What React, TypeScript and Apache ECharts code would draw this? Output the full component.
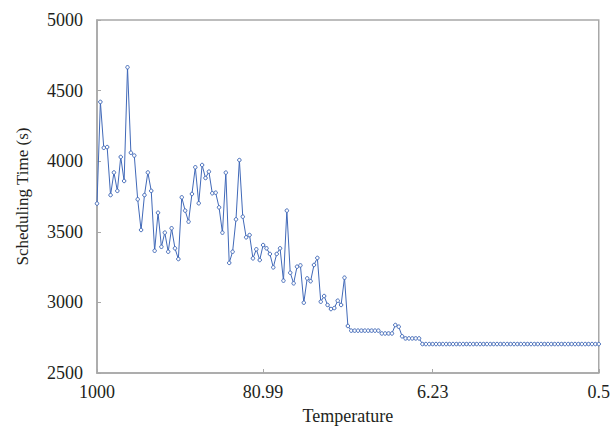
import React, { useEffect, useRef } from "react";
import * as echarts from "echarts";

// Temperature step index (0..148) and tick labels
const tickIndex = [0, 49, 99, 148];
const tickLabels = ["1000", "80.99", "6.23", "0.5"];

// Scheduling time values, one per temperature step
const noisyPart = [
  3700, 4420, 4095, 4100, 3760, 3920, 3790, 4030, 3860, 4665,
  4060, 4040, 3730, 3513, 3760, 3920, 3790, 3366, 3635, 3394,
  3494, 3359, 3525, 3383, 3307, 3744, 3650, 3572, 3768, 3957,
  3702, 3973, 3881, 3926, 3773, 3777, 3673, 3494, 3919, 3280,
  3359, 3588, 4008, 3607, 3461, 3477, 3312, 3376, 3300, 3406,
  3383, 3343, 3248, 3343, 3383, 3154, 3650, 3210, 3135, 3253,
  3262, 2998, 3170, 3150, 3265, 3315, 3005, 3045, 2982, 2953,
  2960, 3012, 2982, 3175, 2833,
];
const settlingPart = [
  2800, 2800, 2800, 2800, 2800, 2800, 2800, 2800, 2800,
  2780, 2780, 2780, 2780,
  2840, 2828, 2760,
  2745, 2745, 2745, 2745, 2745,
];
const flatPart = [
  2705, 2705, 2705, 2705, 2705, 2705, 2705, 2705, 2705, 2705,
  2705, 2705, 2705, 2705, 2705, 2705, 2705, 2705, 2705, 2705,
  2705, 2705, 2705, 2705, 2705, 2705, 2705, 2705, 2705, 2705,
  2705, 2705, 2705, 2705, 2705, 2705, 2705, 2705, 2705, 2705,
  2705, 2705, 2705, 2705, 2705, 2705, 2705, 2705, 2705, 2705,
  2705, 2705, 2705,
];
const schedulingTime = [...noisyPart, ...settlingPart, ...flatPart];

const FONT = "'Liberation Serif', 'DejaVu Serif', serif";
const FRAME = "#a8a8a8";
const LINE = "#4169b8";

export default function App() {
  const ref = useRef<HTMLDivElement>(null);

  useEffect(() => {
    if (!ref.current) return;
    const chart = echarts.init(ref.current, null, { renderer: "svg" });
    const data = schedulingTime.map((v, i) => [i, v]);
    chart.setOption({
      animation: false,
      backgroundColor: "#ffffff",
      grid: {
        left: 97,
        right: 13,
        top: 20,
        bottom: 58,
        show: true,
        borderColor: FRAME,
        borderWidth: 1.5,
        containLabel: false,
      },
      xAxis: {
        type: "value",
        min: 0,
        max: schedulingTime.length - 1,
        name: "Temperature",
        nameLocation: "middle",
        nameGap: 34,
        nameTextStyle: { fontFamily: FONT, fontSize: 18, color: "#231f20" },
        axisLine: { show: true, lineStyle: { color: FRAME, width: 1.5 } },
        axisTick: {
          show: true,
          inside: true,
          length: 4,
          customValues: tickIndex,
          lineStyle: { color: FRAME, width: 1 },
        },
        axisLabel: {
          show: true,
          customValues: tickIndex,
          margin: 10,
          fontFamily: FONT,
          fontSize: 18,
          color: "#231f20",
          formatter: (val: number) => {
            const k = tickIndex.indexOf(Math.round(val));
            return k >= 0 ? tickLabels[k] : "";
          },
        },
        splitLine: { show: false },
      },
      yAxis: {
        type: "value",
        min: 2500,
        max: 5000,
        interval: 500,
        name: "Scheduling Time (s)",
        nameLocation: "middle",
        nameGap: 66,
        nameTextStyle: { fontFamily: FONT, fontSize: 17, color: "#231f20" },
        axisLine: { show: true, lineStyle: { color: FRAME, width: 1.5 } },
        axisTick: {
          show: true,
          inside: true,
          length: 4,
          lineStyle: { color: FRAME, width: 1 },
        },
        axisLabel: {
          margin: 14,
          fontFamily: FONT,
          fontSize: 18,
          color: "#231f20",
          formatter: (val: number) => String(val),
        },
        splitLine: { show: false },
      },
      series: [
        {
          type: "line",
          data,
          symbol: "circle",
          symbolSize: 3.5,
          showSymbol: true,
          lineStyle: { color: LINE, width: 1 },
          itemStyle: { color: "#ffffff", borderColor: LINE, borderWidth: 1 },
        },
      ],
    });
    return () => chart.dispose();
  }, []);

  return (
    <div
      ref={ref}
      style={{ position: "fixed", left: 0, top: 0, width: 613, height: 431 }}
    />
  );
}
